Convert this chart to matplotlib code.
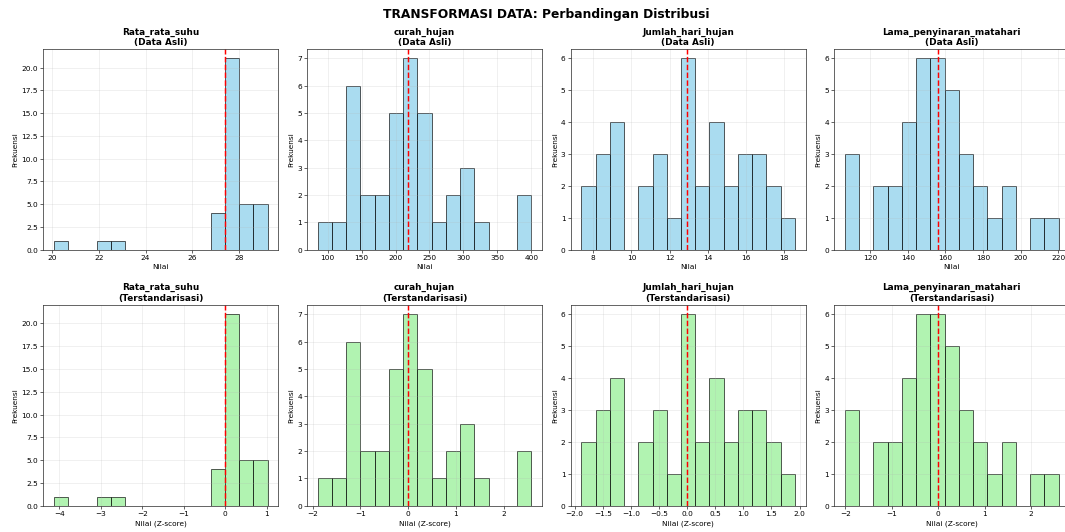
import numpy as np
import matplotlib
matplotlib.use("Agg")
import matplotlib.pyplot as plt

variables = ["Rata_rata_suhu", "curah_hujan", "Jumlah_hari_hujan", "Lama_penyinaran_matahari"]

# histogram counts (15 bins) - identical shape for original and standardized data
counts_suhu = [1, 0, 0, 1, 1, 0, 0, 0, 0, 0, 0, 4, 21, 5, 5]
counts_curah = [1, 1, 6, 2, 2, 5, 7, 5, 1, 2, 3, 1, 0, 0, 2]
counts_jumlah = [2, 3, 4, 0, 2, 3, 1, 6, 2, 4, 2, 3, 3, 2, 1]
counts_lama = [3, 0, 2, 2, 4, 6, 6, 5, 3, 2, 1, 2, 0, 1, 1]

# data ranges (min, max) of the original data
range_orig_suhu = (20.07, 29.24)
range_orig_curah = (85.3, 400.0)
range_orig_jumlah = (7.37, 18.58)
range_orig_lama = (106.6, 220.2)

# data ranges of the standardized data (z-score)
range_z_suhu = (-4.13, 1.02)
range_z_curah = (-1.895, 2.578)
range_z_jumlah = (-1.88, 1.917)
range_z_lama = (-2.01, 2.59)

# means
mean_orig = [27.42, 218.6, 12.93, 156.2]
mean_z = [0.0, 0.0, 0.0, 0.0]

counts_all = [counts_suhu, counts_curah, counts_jumlah, counts_lama]
ranges_orig = [range_orig_suhu, range_orig_curah, range_orig_jumlah, range_orig_lama]
ranges_z = [range_z_suhu, range_z_curah, range_z_jumlah, range_z_lama]

fig, axes = plt.subplots(2, 4, figsize=(20, 10), dpi=53.25)
fig.subplots_adjust(left=0.0407, right=1.004, top=0.9073, bottom=0.0494,
                    wspace=0.122, hspace=0.274)

for i, var in enumerate(variables):
    for row, (rng, mean, color, label, sub) in enumerate([
        (ranges_orig[i], mean_orig[i], "skyblue", "Nilai", "Data Asli"),
        (ranges_z[i], mean_z[i], "lightgreen", "Nilai (Z-score)", "Terstandarisasi"),
    ]):
        ax = axes[row, i]
        edges = np.linspace(rng[0], rng[1], len(counts_all[i]) + 1)
        centers = (edges[:-1] + edges[1:]) / 2
        ax.hist(centers, bins=edges, weights=counts_all[i], color=color,
                edgecolor="black", alpha=0.7, linewidth=1.2)
        ax.axvline(mean, color="red", linestyle="--", linewidth=2)
        ax.set_title(f"{var}\n({sub})", fontsize=12, fontweight="bold")
        ax.set_xlabel(label, fontsize=10)
        ax.set_ylabel("Frekuensi", fontsize=10)
        ax.grid(True, alpha=0.3)
        for sp in ax.spines.values():
            sp.set_linewidth(1.0)
            sp.set_color("#333333")

fig.suptitle("TRANSFORMASI DATA: Perbandingan Distribusi", fontsize=16.5,
             fontweight="bold", x=546 / 1065, y=0.985)

fig.savefig("out.png", dpi=53.25)
